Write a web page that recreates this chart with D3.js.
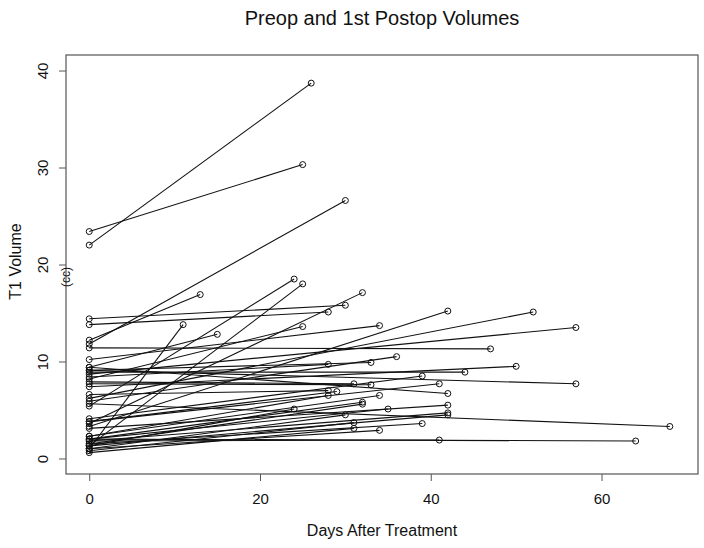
<!DOCTYPE html>
<html>
<head>
<meta charset="utf-8">
<script src="https://cdn.jsdelivr.net/npm/d3@7"></script>
<style>
  body { margin: 0; background: #fff; }
  text { font-family: "Liberation Sans", Arial, sans-serif; }
</style>
</head>
<body>
<div id="chart"></div>
<script>
// each patient: preop volume at day 0, then 1st postop volume at some day
const preVol   = [22.0, 23.4, 11.8, 5.4, 1.3, 12.2, 3.6, 14.4, 13.8, 8.2, 9.4, 1.0, 10.2, 3.3, 6.2, 8.7,
                  11.4, 5.9, 9.1, 7.4, 8.9, 4.1, 8.4, 3.8, 9.1, 7.9, 7.7, 9.4, 2.3, 2.0, 1.5, 3.1,
                  2.0, 1.8, 1.3, 1.0, 0.8, 1.5, 0.6, 1.0, 1.8, 2.0, 5.65, 6.6, 3.8, 2.3, 1.3]
const postDay  = [26, 25, 30, 24, 25, 13, 32, 30, 28, 25, 15, 11, 34, 42, 52, 57,
                  47, 36, 33, 50, 44, 39, 28, 41, 57, 31, 33, 42, 34, 32, 32, 42,
                  35, 42, 42, 30, 31, 39, 31, 34, 41, 64, 68, 28, 29, 28, 24]
const postVol  = [38.7, 30.3, 26.6, 18.5, 18.0, 16.9, 17.1, 15.8, 15.1, 13.6, 12.8, 13.8, 13.7, 15.2, 15.1, 13.5,
                  11.3, 10.5, 9.9, 9.5, 8.9, 8.5, 9.7, 7.7, 7.7, 7.7, 7.6, 6.7, 6.5, 5.8, 5.6, 5.5,
                  5.1, 4.7, 4.5, 4.5, 3.7, 3.6, 3.1, 2.9, 1.9, 1.8, 3.3, 7.0, 6.9, 6.5, 5.1]

const xTicks = [0, 20, 40, 60]
const yTicks = [0, 10, 20, 30, 40]
const xLim = [-2.72, 71.3]
const yLim = [-1.6, 41.6]

const W = 704, H = 548
const plot = {left: 66, right: 698, top: 55, bottom: 474}

const svg = d3.select("#chart").append("svg")
  .attr("width", W)
  .attr("height", H)

const x = d3.scaleLinear().domain(xLim).range([plot.left, plot.right])
const y = d3.scaleLinear().domain(yLim).range([plot.bottom, plot.top])

const segs = preVol.map((v, i) => ({pre: v, day: postDay[i], post: postVol[i]}))

// segments
svg.append("g").selectAll("line")
  .data(segs)
  .join("line")
  .attr("x1", x(0))
  .attr("y1", d => y(d.pre))
  .attr("x2", d => x(d.day))
  .attr("y2", d => y(d.post))
  .attr("stroke", "#111")
  .attr("stroke-width", 1.1)

// points at both ends
let pts = []
segs.forEach(d => {
  pts.push([0, d.pre])
  pts.push([d.day, d.post])
})
svg.append("g").selectAll("circle")
  .data(pts)
  .join("circle")
  .attr("cx", d => x(d[0]))
  .attr("cy", d => y(d[1]))
  .attr("r", 3)
  .attr("fill", "none")
  .attr("stroke", "#111")
  .attr("stroke-width", 1)

// frame
svg.append("rect")
  .attr("x", plot.left)
  .attr("y", plot.top)
  .attr("width", plot.right - plot.left)
  .attr("height", plot.bottom - plot.top)
  .attr("fill", "none")
  .attr("stroke", "#555")
  .attr("stroke-width", 1.2)

// axes
let xAxis = svg.append("g")
  .attr("transform", `translate(0,${plot.bottom})`)
  .call(d3.axisBottom(x).tickValues(xTicks).tickSize(7).tickPadding(12))
xAxis.select(".domain").remove()
xAxis.selectAll("line").attr("stroke", "#555")
xAxis.selectAll("text").style("font-size", "15px").attr("fill", "#111")

let yAxis = svg.append("g")
  .attr("transform", `translate(${plot.left},0)`)
  .call(d3.axisLeft(y).tickValues(yTicks).tickSize(7))
yAxis.select(".domain").remove()
yAxis.selectAll("line").attr("stroke", "#555")
yAxis.selectAll(".tick text")
  .attr("x", null).attr("dy", null).attr("y", 0)
  .attr("text-anchor", "middle")
  .attr("transform", "translate(-18,0) rotate(-90)")
  .style("font-size", "15px")
  .attr("fill", "#111")

// titles
svg.append("text")
  .attr("x", (plot.left + plot.right) / 2)
  .attr("y", 25)
  .attr("text-anchor", "middle")
  .style("font-size", "20px")
  .attr("fill", "#111")
  .text("Preop and 1st Postop Volumes")

svg.append("text")
  .attr("x", (plot.left + plot.right) / 2)
  .attr("y", 536)
  .attr("text-anchor", "middle")
  .style("font-size", "16px")
  .attr("fill", "#111")
  .text("Days After Treatment")

svg.append("text")
  .attr("transform", `translate(21,${(plot.top + plot.bottom) / 2 - 3}) rotate(-90)`)
  .attr("text-anchor", "middle")
  .style("font-size", "16px")
  .attr("fill", "#111")
  .text("T1 Volume")

svg.append("text")
  .attr("transform", `translate(70,277) rotate(-90)`)
  .attr("text-anchor", "middle")
  .style("font-size", "12px")
  .attr("fill", "#111")
  .text("(cc)")
</script>
</body>
</html>
